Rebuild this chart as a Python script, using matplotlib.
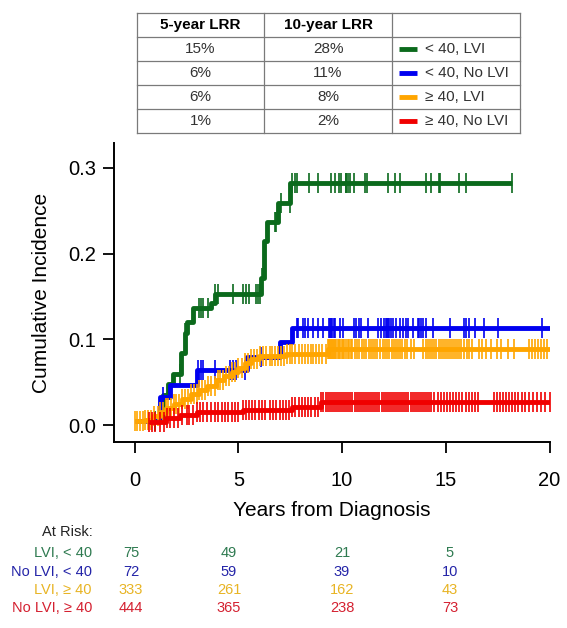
import numpy as np
import matplotlib
matplotlib.use("Agg")
import matplotlib.pyplot as plt

plt.rcParams['font.family'] = ['Liberation Sans', 'DejaVu Sans']

# ---- data ----
groups = ["< 40, LVI", "< 40, No LVI", "\u2265 40, LVI", "\u2265 40, No LVI"]
risk_labels = ["LVI, < 40", "No LVI, < 40", "LVI, \u2265 40", "No LVI, \u2265 40"]
line_colors = ["#0b6a1c", "#0000f0", "#ffa500", "#f00000"]
text_colors = ["#2e7a50", "#2424a8", "#e8b424", "#d42030"]
lrr_5 = ["15%", "6%", "6%", "1%"]
lrr_10 = ["28%", "11%", "8%", "2%"]

# step curves: event times (years) and cumulative incidence after each step
green_t = [0.7, 1.35, 1.6, 1.85, 2.25, 2.4, 2.5, 2.8, 3.7, 3.85, 6.1, 6.25, 6.4, 6.9, 7.5, 18.2]
green_y = [0.005, 0.035, 0.048, 0.06, 0.084, 0.107, 0.12, 0.136, 0.142, 0.153, 0.172, 0.215, 0.237, 0.259, 0.282, 0.282]
blue_t = [0.0, 1.2, 1.7, 3.0, 5.4, 7.0, 7.6, 20.0]
blue_y = [0.005, 0.033, 0.047, 0.064, 0.079, 0.097, 0.113, 0.113]
orange_t = [0.0, 0.5, 0.9, 1.2, 1.5, 1.9, 2.3, 2.7, 3.1, 3.5, 3.9, 4.3, 4.7, 5.0, 5.3, 5.6, 6.0, 7.3, 9.3, 20.0]
orange_y = [0.005, 0.006, 0.01, 0.015, 0.02, 0.025, 0.03, 0.036, 0.041, 0.046, 0.052, 0.057, 0.062, 0.067,
            0.072, 0.077, 0.081, 0.083, 0.089, 0.089]
red_t = [0.7, 1.5, 2.2, 3.0, 5.2, 7.6, 9.0, 20.0]
red_y = [0.004, 0.008, 0.012, 0.015, 0.018, 0.021, 0.027, 0.027]

# censoring times
green_c = [1.0, 2.2, 2.4, 3.1, 3.2, 3.3, 3.55, 3.86, 4.0, 4.74, 5.22, 5.38, 5.49, 5.86, 5.94, 6.06, 6.15, 6.75,
           6.83, 7.07, 7.47, 7.6, 7.71, 7.82, 8.4, 8.84, 9.48, 9.64, 9.85, 9.93, 10.17, 10.2, 10.28, 10.39, 10.55,
           11.08, 11.19, 12.21, 12.53, 12.8, 14.06, 14.3, 14.66, 14.73, 15.63, 15.95, 18.2]
blue_c = [1.35, 3.05, 3.2, 3.3, 3.86, 4.58, 4.75, 4.9, 5.3, 6.1, 7.82, 7.86, 8.11, 8.2, 8.35, 8.59, 8.84, 9.08,
          9.37, 9.43, 9.48, 9.53, 9.59, 9.64, 9.88, 10.04, 10.55, 10.65, 10.81, 10.92, 11.24, 11.73, 11.89, 12.0,
          12.1, 12.16, 12.21, 12.26, 12.37, 12.45, 12.61, 12.8, 12.93, 13.06, 13.17, 13.41, 13.66, 13.73, 13.82,
          13.89, 14.06, 14.38, 15.18, 15.9, 15.99, 16.14, 16.39, 16.82, 17.51, 19.65]
orange_c = [0.0, 0.1, 0.25, 0.4, 0.5, 0.65, 0.8, 0.95, 1.1, 1.2, 1.35, 1.5, 1.6, 1.75, 1.9, 2.0, 2.15, 2.3, 2.4,
            2.55, 2.7, 2.85, 3.0, 3.1, 3.25, 3.4, 3.55, 3.7, 3.85, 4.0, 4.1, 4.25, 4.4, 4.55, 4.7, 4.85, 5.0, 5.15,
            5.3, 5.45, 5.6, 5.75, 5.9, 6.05, 6.2, 6.35, 6.5, 6.6, 6.75, 6.9, 7.05, 7.2, 7.35, 7.5, 7.6, 7.75, 7.9,
            8.05, 8.2, 8.35, 8.5, 8.6, 8.75, 8.9, 9.05, 9.2, 9.3, 9.35, 9.4, 9.45, 9.5, 9.55, 9.6, 9.65, 9.7, 9.8,
            9.85, 9.9, 10.0, 10.05, 10.1, 10.2, 10.3, 10.35, 10.45, 10.5, 10.6, 10.7, 10.8, 10.95, 11.05, 11.15,
            11.3, 11.4, 11.5, 11.6, 11.7, 11.85, 11.95, 12.05, 12.15, 12.25, 12.4, 12.5, 12.6, 12.7, 12.8, 12.9,
            13.05, 13.15, 13.3, 13.45, 13.9, 14.05, 14.15, 14.25, 14.35, 14.45, 14.55, 14.65, 14.75, 14.85, 14.95,
            15.05, 15.15, 15.25, 15.35, 15.45, 15.55, 15.65, 15.75, 15.9, 16.0, 16.1, 16.25, 16.6, 16.75, 16.95,
            17.2, 17.45, 17.65, 18.0, 18.3, 19.0, 19.15, 19.3, 19.45, 19.6, 19.75, 19.9]
red_c = [0.7, 0.85, 1.0, 1.2, 1.4, 1.55, 1.7, 1.9, 2.1, 2.3, 2.5, 2.6, 2.8, 3.0, 3.15, 3.3, 3.5, 3.7, 3.85, 4.0,
         4.2, 4.35, 4.5, 4.7, 4.85, 5.0, 5.2, 5.35, 5.5, 5.65, 5.8, 6.0, 6.15, 6.3, 6.5, 6.65, 6.8, 7.0, 7.15, 7.3,
         7.45, 7.6, 7.75, 7.9, 8.05, 8.2, 8.35, 8.5, 8.7, 8.85, 9.0, 9.1, 9.2, 9.3, 9.4, 9.5, 9.6, 9.7, 9.8, 9.9,
         10.0, 10.1, 10.2, 10.3, 10.4, 10.5, 10.6, 10.7, 10.8, 10.9, 11.0, 11.1, 11.2, 11.3, 11.4, 11.5, 11.6,
         11.7, 11.8, 11.9, 12.0, 12.1, 12.2, 12.3, 12.4, 12.5, 12.6, 12.7, 12.8, 12.9, 13.0, 13.1, 13.2, 13.3,
         13.4, 13.5, 13.6, 13.7, 13.8, 13.9, 14.0, 14.1, 14.2, 14.3, 14.45, 14.6, 14.75, 14.9, 15.05, 15.2, 15.35,
         15.5, 15.65, 15.8, 15.95, 16.1, 16.25, 16.4, 16.55, 17.3, 17.45, 17.6, 17.75, 17.9, 18.05, 18.2, 18.35,
         18.5, 18.65, 18.8, 19.0, 19.2, 19.4, 19.6, 19.8, 20.0]

at_risk = [[75, 49, 21, 5],
           [72, 59, 39, 10],
           [333, 261, 162, 43],
           [444, 365, 238, 73]]

xticks = [0, 5, 10, 15, 20]
yticks = [0.0, 0.1, 0.2, 0.3]

curves = [(green_t, green_y, green_c), (blue_t, blue_y, blue_c),
          (orange_t, orange_y, orange_c), (red_t, red_y, red_c)]

W, H = 567, 628
fig = plt.figure(figsize=(W / 100, H / 100), dpi=100)
ax = fig.add_axes([114 / W, 1 - 442 / H, (549.5 - 114) / W, (442 - 143) / H])

for (t, y, c), col in zip(curves, line_colors):
    t = np.array(t)
    y = np.array(y)
    ax.step(t, y, where='post', color=col, lw=3.5, solid_capstyle='butt', zorder=3)
    c = np.array(c)
    idx = np.clip(np.searchsorted(t, c, side='right') - 1, 0, len(y) - 1)
    ax.plot(c, y[idx], ls='none', marker='|', ms=15, mew=1.2, color=col, zorder=3)

ax.set_xlim(-1.0, 20)
ax.set_ylim(-0.0198, 0.329)
ax.set_xticks(xticks)
ax.set_xticklabels([str(v) for v in xticks])
ax.set_yticks(yticks)
ax.set_yticklabels(["%.1f" % v for v in yticks])
for s in ['top', 'right']:
    ax.spines[s].set_visible(False)
for s in ['left', 'bottom']:
    ax.spines[s].set_linewidth(1.4)
ax.tick_params(direction='out', length=8, width=1.3, labelsize=14.5, pad=5)
ax.tick_params(axis='x', pad=13)
ax.set_xlabel("Years from Diagnosis", fontsize=15, labelpad=8)
ax.set_ylabel("Cumulative Incidence", fontsize=15, labelpad=12)

# overlay in pixel coordinates for the table and the at-risk block
ov = fig.add_axes([0, 0, 1, 1], facecolor='none')
ov.set_xlim(0, W)
ov.set_ylim(H, 0)
ov.axis('off')

tab_l, tab_r = 137, 520
col_x = [137, 264, 392, 520]
row_y = [13, 37, 61, 85, 109, 133]
gc = '#7a7a7a'
for yy in row_y:
    ov.plot([tab_l, tab_r], [yy, yy], color=gc, lw=0.9)
for xx in col_x:
    ov.plot([xx, xx], [row_y[0], row_y[-1]], color=gc, lw=0.9)

ov.text((col_x[0] + col_x[1]) / 2, 25, "5-year LRR", ha='center', va='center', fontsize=11, fontweight='bold')
ov.text((col_x[1] + col_x[2]) / 2, 25, "10-year LRR", ha='center', va='center', fontsize=11, fontweight='bold')
for i in range(4):
    yc = (row_y[i + 1] + row_y[i + 2]) / 2
    ov.text((col_x[0] + col_x[1]) / 2, yc, lrr_5[i], ha='center', va='center', fontsize=11, color='#333333')
    ov.text((col_x[1] + col_x[2]) / 2, yc, lrr_10[i], ha='center', va='center', fontsize=11, color='#333333')
    ov.plot([399, 417], [yc, yc], color=line_colors[i], lw=3.5, solid_capstyle='butt')
    ov.text(425, yc, groups[i], ha='left', va='center', fontsize=11, color='#333333')

# at-risk numbers
ov.text(93, 532, "At Risk:", ha='right', va='center', fontsize=10.5, color='#222222')
risk_y = [553, 572, 590, 608]
risk_x = [131, 229, 342, 450]
for i in range(4):
    ov.text(92, risk_y[i], risk_labels[i], ha='right', va='center', fontsize=10.5, color=text_colors[i])
    for j in range(4):
        ov.text(risk_x[j], risk_y[i], str(at_risk[i][j]), ha='center', va='center', fontsize=10.5,
                color=text_colors[i])

fig.savefig("out.png", dpi=100)
